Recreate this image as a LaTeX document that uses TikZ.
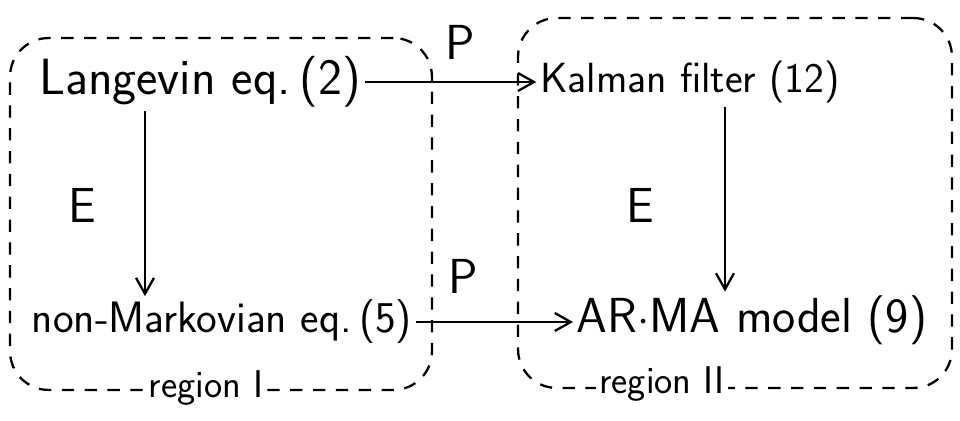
\documentclass[tikz,border=0pt]{standalone}
\usepackage{tikz}
\usetikzlibrary{arrows.meta,positioning}
\tikzset{
  regionbox/.style={rectangle, rounded corners=22pt, draw=black, line width=1.3pt,
    dash pattern=on 7pt off 6pt},
  regionlabel/.style={fill=white, inner sep=2pt, font=\sffamily\fontsize{22}{26}\selectfont},
  eqnode/.style={inner sep=2pt, font=\sffamily\fontsize{#1}{#1}\selectfont},
  oplabel/.style={font=\sffamily\fontsize{28}{32}\selectfont},
  mapedge/.style={-{Straight Barb[length=3.2mm, width=3.6mm]}, draw=black, line width=1.3pt},
}
\begin{document}
\begin{tikzpicture}[x=0.02cm, y=-0.02cm]
  \useasboundingbox (0,0) rectangle (960,421);
  % regions
  \node[regionbox, minimum width=8.44cm, minimum height=7.04cm] (regI) at (221,214) {};
  \node[regionbox, minimum width=8.68cm, minimum height=7.4cm] (regII) at (735,203) {};
  \node[regionlabel] (labI) at (206,388) {region I};
  \node[regionlabel] (labII) at (662,384) {region II};
  % equations
  \node[eqnode=29] (lang) at (200,82) {Langevin eq.\,(2)};
  \node[eqnode=24] (kal) at (690,82) {Kalman filter (12)};
  \node[eqnode=25] (nonm) at (222,322) {non-Markovian eq.\,(5)};
  \node[eqnode=28] (arma) at (752,320) {AR$\cdot$MA model (9)};
  % maps
  \coordinate (lx) at (145,0);
  \coordinate (rx) at (725,0);
  \draw[mapedge] (lang.east) -- (kal.west |- lang.east);
  \draw[mapedge] (nonm.east) -- (arma.west |- nonm.east);
  \draw[mapedge] (lang.south -| lx) -- (nonm.north -| lx);
  \draw[mapedge] (kal.south -| rx) -- (arma.north -| rx);
  \node[oplabel] (p1) at (460,42) {P};
  \node[oplabel] (p2) at (463,276) {P};
  \node[oplabel] (e1) at (82,205) {E};
  \node[oplabel] (e2) at (640,205) {E};
\end{tikzpicture}
\end{document}
